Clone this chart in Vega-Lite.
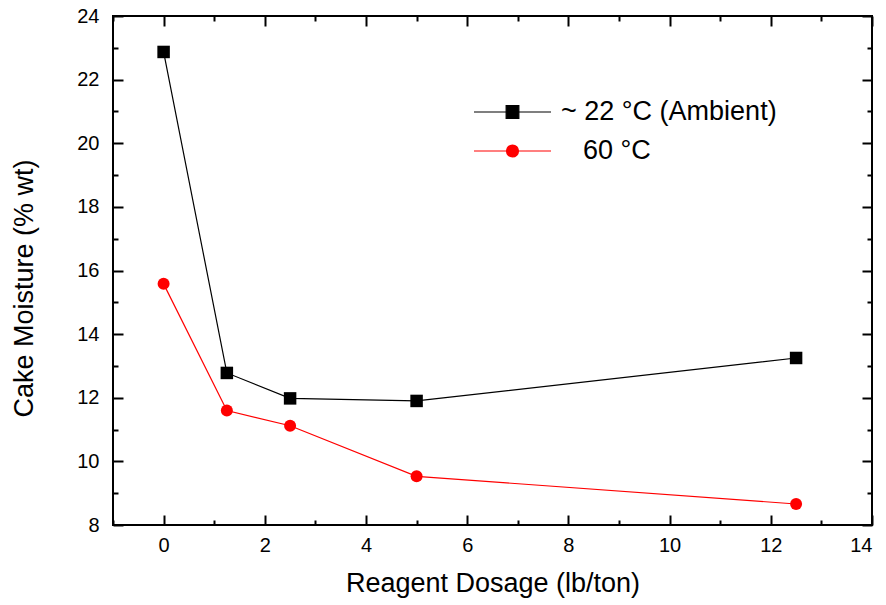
{
  "$schema": "https://vega.github.io/schema/vega-lite/v6.json",
  "width": 759,
  "height": 509,
  "autosize": "none",
  "padding": {"left": 113, "top": 16, "right": 14, "bottom": 80},
  "background": "white",
  "config": {
    "font": "Liberation Sans",
    "view": {"stroke": "black", "strokeWidth": 2},
    "axis": {
      "domain": false,
      "grid": false,
      "tickColor": "black",
      "tickWidth": 2,
      "labelFont": "Liberation Sans",
      "labelFontSize": 20,
      "labelColor": "black",
      "titleFont": "Liberation Sans",
      "titleFontSize": 27,
      "titleFontWeight": "normal",
      "titleColor": "black"
    },
    "legend": {
      "orient": "none",
      "title": null,
      "padding": 0,
      "symbolSize": 5929,
      "symbolStrokeWidth": 1.2,
      "clipHeight": 20,
      "labelFontSize": 27,
      "labelFont": "Liberation Sans",
      "labelColor": "black",
      "labelLimit": 400
    }
  },
  "data": {
    "values": [
      {"dosage": 0, "moisture": 22.87, "series": "~ 22 °C (Ambient)"},
      {"dosage": 1.25, "moisture": 12.78, "series": "~ 22 °C (Ambient)"},
      {"dosage": 2.5, "moisture": 11.98, "series": "~ 22 °C (Ambient)"},
      {"dosage": 5, "moisture": 11.9, "series": "~ 22 °C (Ambient)"},
      {"dosage": 12.5, "moisture": 13.25, "series": "~ 22 °C (Ambient)"},
      {"dosage": 0, "moisture": 15.58, "series": "60 °C"},
      {"dosage": 1.25, "moisture": 11.6, "series": "60 °C"},
      {"dosage": 2.5, "moisture": 11.12, "series": "60 °C"},
      {"dosage": 5, "moisture": 9.53, "series": "60 °C"},
      {"dosage": 12.5, "moisture": 8.66, "series": "60 °C"}
    ]
  },
  "layer": [
    {
      "transform": [{"filter": "datum.series == '~ 22 °C (Ambient)'"}],
      "mark": {"type": "line", "color": "black", "strokeWidth": 1.2},
      "encoding": {
        "x": {"field": "dosage", "type": "quantitative", "scale": {"domain": [-1, 14], "nice": false, "zero": false},
          "axis": {"orient": "bottom", "values": [0, 2, 4, 6, 8, 10, 12, 14], "tickSize": -10, "labelPadding": 20.5, "title": "Reagent Dosage (lb/ton)", "titlePadding": 15}},
        "y": {"field": "moisture", "type": "quantitative", "scale": {"domain": [8, 24], "nice": false, "zero": false},
          "axis": {"orient": "left", "values": [8, 10, 12, 14, 16, 18, 20, 22, 24], "tickSize": -10, "labelPadding": 24, "title": "Cake Moisture (% wt)", "titlePadding": 38, "titleY": 272}}
      }
    },
    {
      "transform": [{"filter": "datum.series == '~ 22 °C (Ambient)'"}],
      "mark": {"type": "point", "shape": "square", "filled": true, "color": "black", "size": 156, "opacity": 1},
      "encoding": {
        "x": {"field": "dosage", "type": "quantitative",
          "axis": {"orient": "bottom", "values": [-1, 1, 3, 5, 7, 9, 11, 13], "tickSize": -5, "labels": false, "title": null}},
        "y": {"field": "moisture", "type": "quantitative",
          "axis": {"orient": "left", "values": [9, 11, 13, 15, 17, 19, 21, 23], "tickSize": -5, "labels": false, "title": null}}
      }
    },
    {
      "transform": [{"filter": "datum.series == '60 °C'"}],
      "mark": {"type": "line", "color": "#ff0000", "strokeWidth": 1.2},
      "encoding": {
        "x": {"field": "dosage", "type": "quantitative",
          "axis": {"orient": "top", "values": [0, 2, 4, 6, 8, 10, 12, 14], "tickSize": -10, "labels": false, "title": null}},
        "y": {"field": "moisture", "type": "quantitative",
          "axis": {"orient": "right", "values": [8, 10, 12, 14, 16, 18, 20, 22, 24], "tickSize": -10, "labels": false, "title": null}}
      }
    },
    {
      "transform": [{"filter": "datum.series == '60 °C'"}],
      "mark": {"type": "point", "shape": "circle", "filled": true, "color": "#ff0000", "size": 144, "opacity": 1},
      "encoding": {
        "x": {"field": "dosage", "type": "quantitative",
          "axis": {"orient": "top", "values": [-1, 1, 3, 5, 7, 9, 11, 13], "tickSize": -5, "labels": false, "title": null}},
        "y": {"field": "moisture", "type": "quantitative",
          "axis": {"orient": "right", "values": [9, 11, 13, 15, 17, 19, 21, 23], "tickSize": -5, "labels": false, "title": null}}
      }
    },
    {
      "transform": [{"filter": "false"}],
      "mark": {"type": "point", "filled": true, "opacity": 1, "shape": "M-1,0H1M-0.165,-0.165H0.165V0.165H-0.165Z"},
      "encoding": {
        "x": {"field": "dosage", "type": "quantitative", "axis": null},
        "y": {"field": "moisture", "type": "quantitative", "axis": null},
        "color": {"field": "series", "type": "nominal",
          "scale": {"domain": ["~ 22 °C (Ambient)"], "range": ["black"]},
          "legend": {"legendX": 360, "legendY": 86, "labelOffset": 9, "symbolType": "M-1,0H1M-0.165,-0.165H0.165V0.165H-0.165Z"}},
        "stroke": {"field": "series", "type": "nominal",
          "scale": {"domain": ["~ 22 °C (Ambient)"], "range": ["black"]},
          "legend": {"legendX": 360, "legendY": 86, "labelOffset": 9, "symbolType": "M-1,0H1M-0.165,-0.165H0.165V0.165H-0.165Z"}}
      }
    },
    {
      "transform": [{"filter": "false"}],
      "mark": {"type": "point", "filled": true, "opacity": 1, "shape": "M-1,0H1M0.155,0A0.155,0.155,0,1,1,-0.155,0A0.155,0.155,0,1,1,0.155,0Z"},
      "encoding": {
        "x": {"field": "dosage", "type": "quantitative", "axis": null},
        "y": {"field": "moisture", "type": "quantitative", "axis": null},
        "color": {"field": "series", "type": "nominal",
          "scale": {"domain": ["60 °C"], "range": ["#ff0000"]},
          "legend": {"legendX": 360, "legendY": 125, "labelOffset": 31, "symbolType": "M-1,0H1M0.155,0A0.155,0.155,0,1,1,-0.155,0A0.155,0.155,0,1,1,0.155,0Z"}},
        "stroke": {"field": "series", "type": "nominal",
          "scale": {"domain": ["60 °C"], "range": ["#ff0000"]},
          "legend": {"legendX": 360, "legendY": 125, "labelOffset": 31, "symbolType": "M-1,0H1M0.155,0A0.155,0.155,0,1,1,-0.155,0A0.155,0.155,0,1,1,0.155,0Z"}}
      }
    }
  ],
  "resolve": {
    "axis": {"x": "independent", "y": "independent"},
    "scale": {"color": "independent", "stroke": "independent"},
    "legend": {"color": "independent", "stroke": "independent"}
  }
}
